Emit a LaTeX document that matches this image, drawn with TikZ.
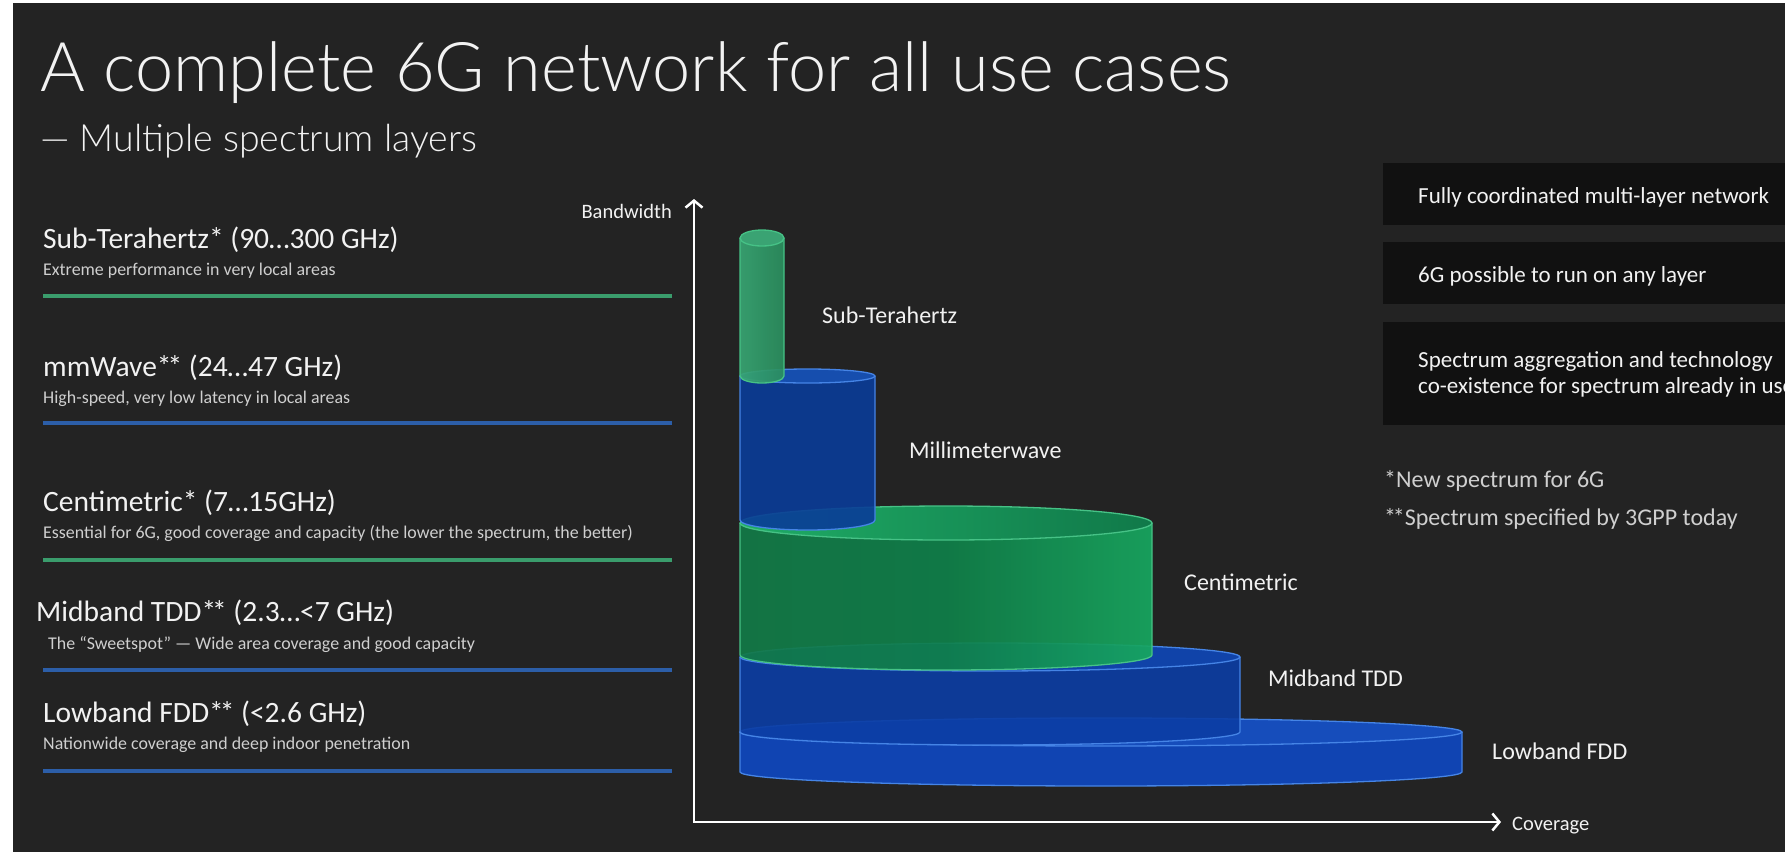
\documentclass[tikz,border=0pt]{standalone}
\usepackage{fontspec}
\setmainfont{Carlito}
\newfontfamily\lightfont{Lato Light}
\usetikzlibrary{arrows.meta}
\definecolor{bg}{HTML}{232323}
\definecolor{txt}{HTML}{F2F2F2}
\definecolor{txtg}{HTML}{CFCFCF}
\definecolor{boxc}{HTML}{111111}
\definecolor{lgreen}{HTML}{3A9C6C}
\definecolor{lblue}{HTML}{2C5EA8}
\definecolor{edgeb}{HTML}{4584E6}
\definecolor{edgeg}{HTML}{46C286}
\definecolor{lowbody}{HTML}{0F47BD}
\definecolor{lowtop}{HTML}{1552CC}
\definecolor{midbody}{HTML}{0B3DA4}
\definecolor{midtop}{HTML}{0F47B8}
\definecolor{cmL}{HTML}{127A47}
\definecolor{cmM}{HTML}{0F8049}
\definecolor{cmR}{HTML}{17A860}
\definecolor{cmtL}{HTML}{1FB46A}
\definecolor{cmtR}{HTML}{107E4C}
\definecolor{mmbody}{HTML}{0A3C98}
\definecolor{mmtop}{HTML}{1553BE}
\definecolor{stL}{HTML}{38A673}
\definecolor{stR}{HTML}{2A8E5E}
\definecolor{sttop}{HTML}{3CAA78}
\newcommand{\dstar}{*\kern-0.14em*}
\newcommand{\mycyl}[9]{%
  \pgfmathsetmacro\cylcx{(#1+#2)/2}%
  \pgfmathsetmacro\cylrx{(#2-#1)/2}%
  \path[#7] (#1,#3) -- (#1,#5) arc[start angle=180,end angle=0,x radius=\cylrx,y radius=#6]
     -- (#2,#3) arc[start angle=0,end angle=180,x radius=\cylrx,y radius=#4] -- cycle;
  \path[#8] (\cylcx,#3) ellipse[x radius=\cylrx,y radius=#4];
  \draw[#9,line width=1.3pt] (#1,#3) -- (#1,#5) arc[start angle=180,end angle=0,x radius=\cylrx,y radius=#6] -- (#2,#3);
  \draw[#9,line width=1.3pt] (\cylcx,#3) ellipse[x radius=\cylrx,y radius=#4];
}
\begin{document}
\begin{tikzpicture}[x=1pt,y=-1pt,
  hd/.style={anchor=base west,inner sep=0,text=txt,font=\fontsize{29.5}{32}\selectfont},
  ds/.style={anchor=base west,inner sep=0,text=txtg,font=\fontsize{17.9}{20}\selectfont},
  lbl/.style={anchor=base west,inner sep=0,text=txt,font=\fontsize{24}{26}\selectfont},
  rt/.style={anchor=base west,inner sep=0,text=txt,font=\fontsize{23}{26}\selectfont},
  fn/.style={anchor=base west,inner sep=0,text=txtg,font=\fontsize{24}{26}\selectfont},
  rbox/.style={anchor=north west,fill=boxc,draw=none,inner sep=0,minimum width=402pt},
  sepline/.style={line width=3.5pt},
  axis/.style={draw=white,line width=2.5pt,-{Straight Barb[length=7pt,width=17pt]}},
  axl/.style={inner sep=0,text=txt,font=\fontsize{20.5}{22}\selectfont}
]
\useasboundingbox (0,0) rectangle (1785,852);
\fill[white] (0,0) rectangle (1785,852);
\fill[bg] (13,3) rectangle (1785,852);

% title
\node[anchor=base west,inner sep=0,text=txt,font=\lightfont\fontsize{68.5}{76}\selectfont] (title) at (40,91) {A complete 6G network for all use cases};
\node[anchor=base west,inner sep=0,text=txt,font=\lightfont\fontsize{37.5}{42}\selectfont] (subtitle) at (40,151) {— Multiple spectrum layers};

% left column
\node[hd] (h1) at (43,248) {Sub-Terahertz* (90…300 GHz)};
\node[ds] (d1) at (43,275) {Extreme performance in very local areas};
\coordinate (l1a) at (43,296); \coordinate (l1b) at (672,296);
\draw[sepline,lgreen] (l1a) -- (l1b);

\node[hd] (h2) at (43,376) {mmWave\dstar{} (24…47 GHz)};
\node[ds] (d2) at (43,403) {High-speed, very low latency in local areas};
\coordinate (l2a) at (43,423); \coordinate (l2b) at (672,423);
\draw[sepline,lblue] (l2a) -- (l2b);

\node[hd] (h3) at (43,511) {Centimetric* (7…15GHz)};
\node[ds] (d3) at (43,538) {Essential for 6G, good coverage and capacity (the lower the spectrum, the better)};
\coordinate (l3a) at (43,560); \coordinate (l3b) at (672,560);
\draw[sepline,lgreen] (l3a) -- (l3b);

\node[hd] (h4) at (36,621) {Midband TDD\dstar{} (2.3…<7 GHz)};
\node[ds] (d4) at (48,649) {The “Sweetspot” — Wide area coverage and good capacity};
\coordinate (l4a) at (43,670); \coordinate (l4b) at (672,670);
\draw[sepline,lblue] (l4a) -- (l4b);

\node[hd] (h5) at (43,722) {Lowband FDD\dstar{} (<2.6 GHz)};
\node[ds] (d5) at (43,749) {Nationwide coverage and deep indoor penetration};
\coordinate (l5a) at (43,771); \coordinate (l5b) at (672,771);
\draw[sepline,lblue] (l5a) -- (l5b);

% cylinders (bottom first)
\mycyl{740}{1462}{732}{14}{772}{14}{fill=lowbody,fill opacity=0.93}{fill=lowtop,fill opacity=0.9}{edgeb}
\mycyl{740}{1240}{657}{14}{732}{13}{fill=midbody,fill opacity=0.9}{fill=midtop,fill opacity=0.9}{edgeb}
\mycyl{740}{1152}{523}{17}{655}{15}{left color=cmL,right color=cmR,middle color=cmM,fill opacity=0.92}{left color=cmtL,right color=cmtR,fill opacity=0.95}{edgeg}
\mycyl{740}{875}{376}{7}{520}{10}{fill=mmbody,fill opacity=0.9}{fill=mmtop,fill opacity=0.9}{edgeb}
\mycyl{740}{784}{238}{8}{376}{7}{left color=stL,right color=stR,fill opacity=0.92}{fill=sttop,fill opacity=0.95}{edgeg}

% axes
\coordinate (O) at (694,822);
\coordinate (ytip) at (694,199);
\coordinate (xtip) at (1501,822);
\draw[axis,line cap=rect] (O) -- (ytip);
\draw[axis,line cap=rect] (O) -- (xtip);
\node[axl,anchor=base east] (bw) at (672,218) {Bandwidth};
\node[axl,anchor=base west] (cov) at (1512,830) {Coverage};

% chart labels
\node[lbl] (c1) at (822,323) {Sub-Terahertz};
\node[lbl] (c2) at (909,458) {Millimeterwave};
\node[lbl] (c3) at (1184,590) {Centimetric};
\node[lbl] (c4) at (1268,686) {Midband TDD};
\node[lbl] (c5) at (1492,759) {Lowband FDD};

% right boxes
\node[rbox,minimum height=62pt] (b1) at (1383,163) {};
\node[rbox,minimum height=62pt] (b2) at (1383,242) {};
\node[rbox,minimum height=103pt] (b3) at (1383,322) {};
\node[rt] (t1) at (1418,203) {Fully coordinated multi-layer network};
\node[rt] (t2) at (1418,282) {6G possible to run on any layer};
\node[rt] (t3a) at (1418,367) {Spectrum aggregation and technology};
\node[rt] (t3b) at (1418,393) {co-existence for spectrum already in use};

% footnotes
\node[fn] (f1) at (1384,487) {*New spectrum for 6G};
\node[fn] (f2) at (1384,525) {\dstar{}Spectrum specified by 3GPP today};
\end{tikzpicture}
\end{document}
